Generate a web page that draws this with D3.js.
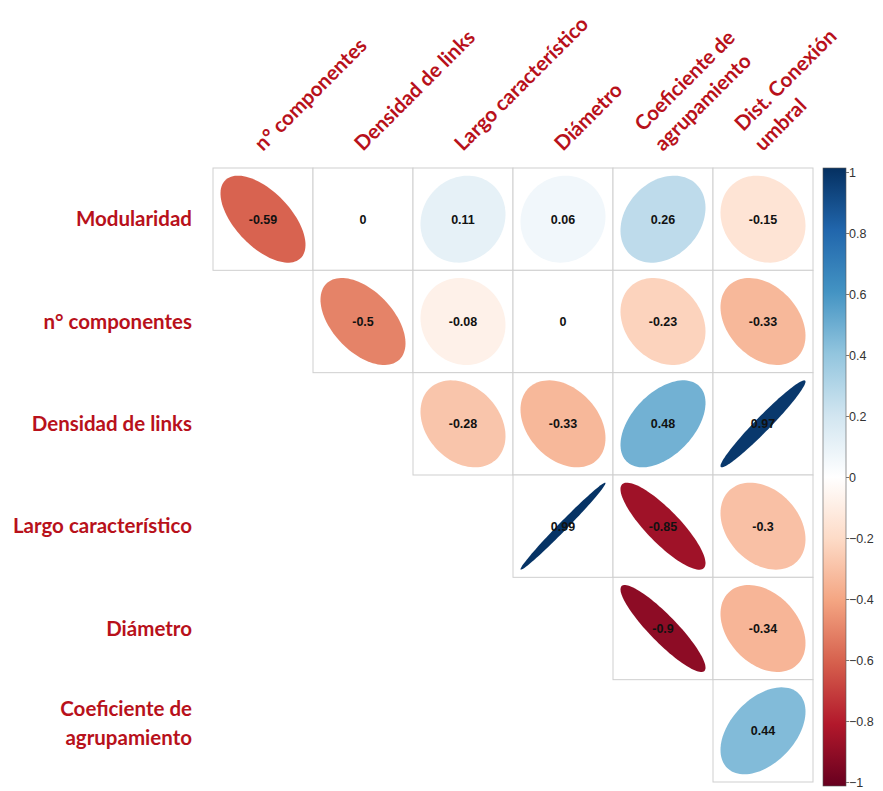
<!DOCTYPE html>
<html>
<head>
<meta charset="utf-8">
<script src="https://cdn.jsdelivr.net/npm/d3@7"></script>
<style>
  body { margin: 0; background: #fff; }
  svg { display: block; }
</style>
</head>
<body>
<svg id="chart" width="883" height="791"></svg>
<script>
// variables (rows / columns of the upper triangle)
const rowVars = ["Modularidad", "n° componentes", "Densidad de links", "Largo característico", "Diámetro", "Coeficiente de agrupamiento"];
const colVars = ["n° componentes", "Densidad de links", "Largo característico", "Diámetro", "Coeficiente de agrupamiento", "Dist. Conexión umbral"];

// how each label is broken into lines
const rowLabelLines = [["Modularidad"], ["n° componentes"], ["Densidad de links"], ["Largo característico"], ["Diámetro"], ["Coeficiente de", "agrupamiento"]];
const colLabelLines = [["n° componentes"], ["Densidad de links"], ["Largo característico"], ["Diámetro"], ["Coeficiente de", "agrupamiento"], ["Dist. Conexión", "umbral"]];

// correlations, one array per row, starting at the diagonal column
const corModularidad = [-0.59, 0, 0.11, 0.06, 0.26, -0.15];
const corComponentes = [-0.5, -0.08, 0, -0.23, -0.33];
const corDensidad = [-0.28, -0.33, 0.48, 0.97];
const corLargo = [0.99, -0.85, -0.3];
const corDiametro = [-0.9, -0.34];
const corCoeficiente = [0.44];
const corRows = [corModularidad, corComponentes, corDensidad, corLargo, corDiametro, corCoeficiente];

// colour bar ticks
const legendTicks = [1, 0.8, 0.6, 0.4, 0.2, 0, -0.2, -0.4, -0.6, -0.8, -1];
const paletteStops = [-1, -0.8, -0.6, -0.4, -0.2, 0, 0.2, 0.4, 0.6, 0.8, 1];
const paletteColors = ["#67001F", "#B2182B", "#D6604D", "#F4A582", "#FDDBC7", "#FFFFFF", "#D1E5F0", "#92C5DE", "#4393C3", "#2166AC", "#053061"];

const svg = d3.select("#chart");
const labelRed = "#b8111b";
const labelFont = "Lato, 'Open Sans', sans-serif";
const labelSize = 20.5;

const x = d3.scaleBand().domain(colVars).range([213, 813]);
const y = d3.scaleBand().domain(rowVars).range([168, 782]);
const color = d3.scaleLinear().domain(paletteStops).range(paletteColors).interpolate(d3.interpolateRgb);

// flatten to cells
const cells = [];
corRows.forEach((vals, i) => {
  vals.forEach((v, k) => {
    cells.push({row: rowVars[i], col: colVars[i + k], r: v});
  });
});

// corrplot style ellipse outline for a correlation value
function ellipsePath(r, w, h) {
  const a = Math.acos(r);
  const pts = d3.range(0, 100).map(k => {
    const t = k / 100 * 2 * Math.PI;
    return [Math.cos(t + a / 2) / 2 * w * 0.85, -Math.cos(t - a / 2) / 2 * h * 0.85];
  });
  return d3.line().curve(d3.curveLinearClosed)(pts);
}

const cellG = svg.append("g")
  .selectAll("g")
  .data(cells)
  .join("g")
  .attr("transform", d => `translate(${x(d.col)},${y(d.row)})`);

cellG.append("rect")
  .attr("width", x.bandwidth())
  .attr("height", y.bandwidth())
  .attr("fill", "#fff")
  .attr("stroke", "#cfcfcf")
  .attr("stroke-width", 1);

cellG.append("path")
  .attr("transform", `translate(${x.bandwidth() / 2},${y.bandwidth() / 2})`)
  .attr("d", d => ellipsePath(d.r, x.bandwidth(), y.bandwidth()))
  .attr("fill", d => color(d.r));

cellG.append("text")
  .attr("x", x.bandwidth() / 2)
  .attr("y", y.bandwidth() / 2)
  .attr("dy", "0.35em")
  .attr("text-anchor", "middle")
  .attr("font-family", "'Liberation Sans', Arial, sans-serif")
  .attr("font-weight", "bold")
  .attr("font-size", 12.5)
  .attr("fill", "#111")
  .text(d => String(d.r));

// row labels
svg.append("g")
  .selectAll("text")
  .data(rowVars)
  .join("text")
  .attr("x", 192)
  .attr("y", d => y(d) + y.bandwidth() / 2)
  .attr("text-anchor", "end")
  .attr("font-family", labelFont)
  .attr("font-weight", "bold")
  .attr("font-size", labelSize)
  .attr("fill", labelRed)
  .each(function(d, i) {
    const lines = rowLabelLines[i];
    const t = d3.select(this);
    lines.forEach((ln, j) => {
      t.append("tspan")
        .attr("x", 192)
        .attr("dy", j === 0 ? (lines.length > 1 ? "-0.7em" : "0.35em") : "1.37em")
        .text(ln);
    });
  });

// column labels, rotated 45 degrees
svg.append("g")
  .selectAll("text")
  .data(colVars)
  .join("text")
  .attr("transform", d => `translate(${x(d) + x.bandwidth() / 2},152) rotate(-45)`)
  .attr("font-family", labelFont)
  .attr("font-weight", "bold")
  .attr("font-size", labelSize)
  .attr("fill", labelRed)
  .each(function(d, i) {
    const lines = colLabelLines[i];
    const t = d3.select(this);
    lines.forEach((ln, j) => {
      t.append("tspan")
        .attr("x", 0)
        .attr("y", (j - (lines.length - 1)) * 28)
        .text(ln);
    });
  });

// colour legend
const ly = d3.scaleLinear().domain([1, -1]).range([172, 782]);
const defs = svg.append("defs");
const grad = defs.append("linearGradient")
  .attr("id", "rdbu")
  .attr("x1", 0).attr("y1", 1).attr("x2", 0).attr("y2", 0);
grad.selectAll("stop")
  .data(paletteStops)
  .join("stop")
  .attr("offset", d => (d + 1) / 2)
  .attr("stop-color", d => color(d));

svg.append("rect")
  .attr("x", 823)
  .attr("y", 168)
  .attr("width", 23)
  .attr("height", 618)
  .attr("fill", "url(#rdbu)")
  .attr("stroke", "#555")
  .attr("stroke-width", 0.6);

const legendAxis = d3.axisRight(ly)
  .tickValues(legendTicks)
  .tickSize(3)
  .tickFormat(d3.format("~g"));

const axG = svg.append("g")
  .attr("transform", "translate(846,0)")
  .call(legendAxis);
axG.select(".domain").remove();
axG.selectAll(".tick line").attr("stroke", "#777");
axG.selectAll(".tick text")
  .attr("x", 3)
  .attr("font-family", "'Liberation Sans', Arial, sans-serif")
  .attr("font-size", 12.5)
  .attr("fill", "#333");
</script>
</body>
</html>
